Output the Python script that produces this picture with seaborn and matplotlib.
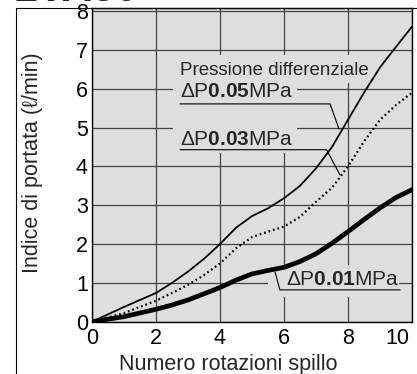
import numpy as np
import pandas as pd
import matplotlib
matplotlib.use("Agg")
import matplotlib.pyplot as plt
import matplotlib.transforms as mtransforms
from matplotlib.patches import Rectangle
from matplotlib.lines import Line2D
import seaborn as sns

# valori
rotazioni = [0, 1, 2, 2.5, 3, 3.5, 4, 4.5, 5, 5.5, 6, 6.5, 7, 7.5, 8, 8.5, 9, 9.5, 10]
portata_005 = [0, 0.38, 0.74, 1.0, 1.29, 1.62, 2.0, 2.42, 2.72, 2.92, 3.18, 3.5, 3.95, 4.5, 5.2, 5.9, 6.55, 7.08, 7.6]
portata_003 = [0, 0.22, 0.54, 0.74, 0.95, 1.2, 1.5, 1.89, 2.18, 2.32, 2.45, 2.7, 3.09, 3.45, 4.0, 4.64, 5.2, 5.58, 5.9]
portata_001 = [0, 0.13, 0.32, 0.43, 0.56, 0.72, 0.88, 1.07, 1.23, 1.32, 1.4, 1.55, 1.75, 2.02, 2.32, 2.63, 2.93, 3.2, 3.4]

x_ticks = [0, 2, 4, 6, 8, 10]
y_ticks = [0, 1, 2, 3, 4, 5, 6, 7, 8]

sns.set_theme(style="white")
plt.rcParams['font.family'] = ['Liberation Sans', 'DejaVu Sans']
plt.rcParams['mathtext.fontset'] = 'custom'
plt.rcParams['mathtext.rm'] = 'Liberation Sans'
plt.rcParams['mathtext.bf'] = 'Liberation Sans:bold'

bg = '#dedede'
W, H = 417, 374
fig = plt.figure(figsize=(W / 100, H / 100), dpi=100)
ax = fig.add_axes([92 / W, 1 - 321.7 / H, 320 / W, 313.7 / H])
ax.set_facecolor(bg)

df = pd.DataFrame({'x': rotazioni, '005': portata_005, '003': portata_003, '001': portata_001})
sns.lineplot(data=df, x='x', y='005', ax=ax, color='black', lw=1.3, zorder=3)
sns.lineplot(data=df, x='x', y='003', ax=ax, color='black', lw=1.6, zorder=3,
             linestyle=(0, (0.8, 1.3)))
sns.lineplot(data=df, x='x', y='001', ax=ax, color='black', lw=3.4, zorder=3,
             solid_capstyle='round')

ax.set_xlim(0, 10)
ax.set_ylim(0, 8.08)
ax.set_xticks(x_ticks)
ax.set_yticks(y_ticks)
ax.grid(True, color='#444444', lw=0.9)
ax.set_axisbelow(True)
ax.tick_params(length=0, labelsize=15.5, colors='black')
ax.tick_params(axis='x', pad=4.5)
ax.tick_params(axis='y', pad=3)
lab10 = ax.get_xticklabels()[-1]
lab10.set_horizontalalignment('right')
lab10.set_transform(lab10.get_transform() + mtransforms.ScaledTranslation(-3 / 100, 0, fig.dpi_scale_trans))
for s in ax.spines.values():
    s.set_color('black')
    s.set_linewidth(1.0)

ax.set_xlabel('Numero rotazioni spillo', fontsize=15.5)
ax.set_ylabel('Indice di portata (ℓ/min)', fontsize=15.5)
ax.xaxis.set_label_coords(0.426, -0.104)
ax.yaxis.set_label_coords(-0.152, 0.506)

# fondi grigi sotto le scritte
for (x0, y0, w, h) in [(2.53, 4.35, 3.87, 2.52), (2.53, 6.15, 6.12, 0.72), (5.5, 0.64, 4.1, 0.82)]:
    ax.add_patch(Rectangle((x0, y0), w, h, facecolor=bg, edgecolor='none', zorder=1.5))

ax.text(2.75, 6.36, 'Pressione differenziale', fontsize=13.5, va='baseline', zorder=4)
ax.text(2.75, 5.80, r'$\mathrm{\Delta P}\mathbf{0.05}\mathrm{MPa}$', fontsize=15, va='baseline', zorder=4)
ax.text(2.75, 4.55, r'$\mathrm{\Delta P}\mathbf{0.03}\mathrm{MPa}$', fontsize=15, va='baseline', zorder=4)
ax.text(6.07, 0.945, r'$\mathrm{\Delta P}\mathbf{0.01}\mathrm{MPa}$', fontsize=15, va='baseline', zorder=4)

ax.plot([2.75, 7.44, 7.72], [5.61, 5.61, 4.96], color='black', lw=0.8, zorder=4)
ax.plot([2.75, 7.33, 7.75], [4.43, 4.43, 3.78], color='black', lw=0.8, zorder=4)
ax.plot([9.63, 5.87, 5.72], [0.82, 0.82, 1.28], color='black', lw=0.8, zorder=4)

# cornice esterna e titolo tagliato
fig.add_artist(Line2D([16 / W, 16 / W], [0, 1 - 8 / H], transform=fig.transFigure, color='black', lw=0.8))
fig.add_artist(Line2D([16 / W, 1], [1 - 8 / H, 1 - 8 / H], transform=fig.transFigure, color='black', lw=0.8))
fig.text(15 / W, 1 - 1 / H, '2VA30', fontsize=30, fontweight='bold', va='baseline')

fig.savefig('out.png', dpi=100)
